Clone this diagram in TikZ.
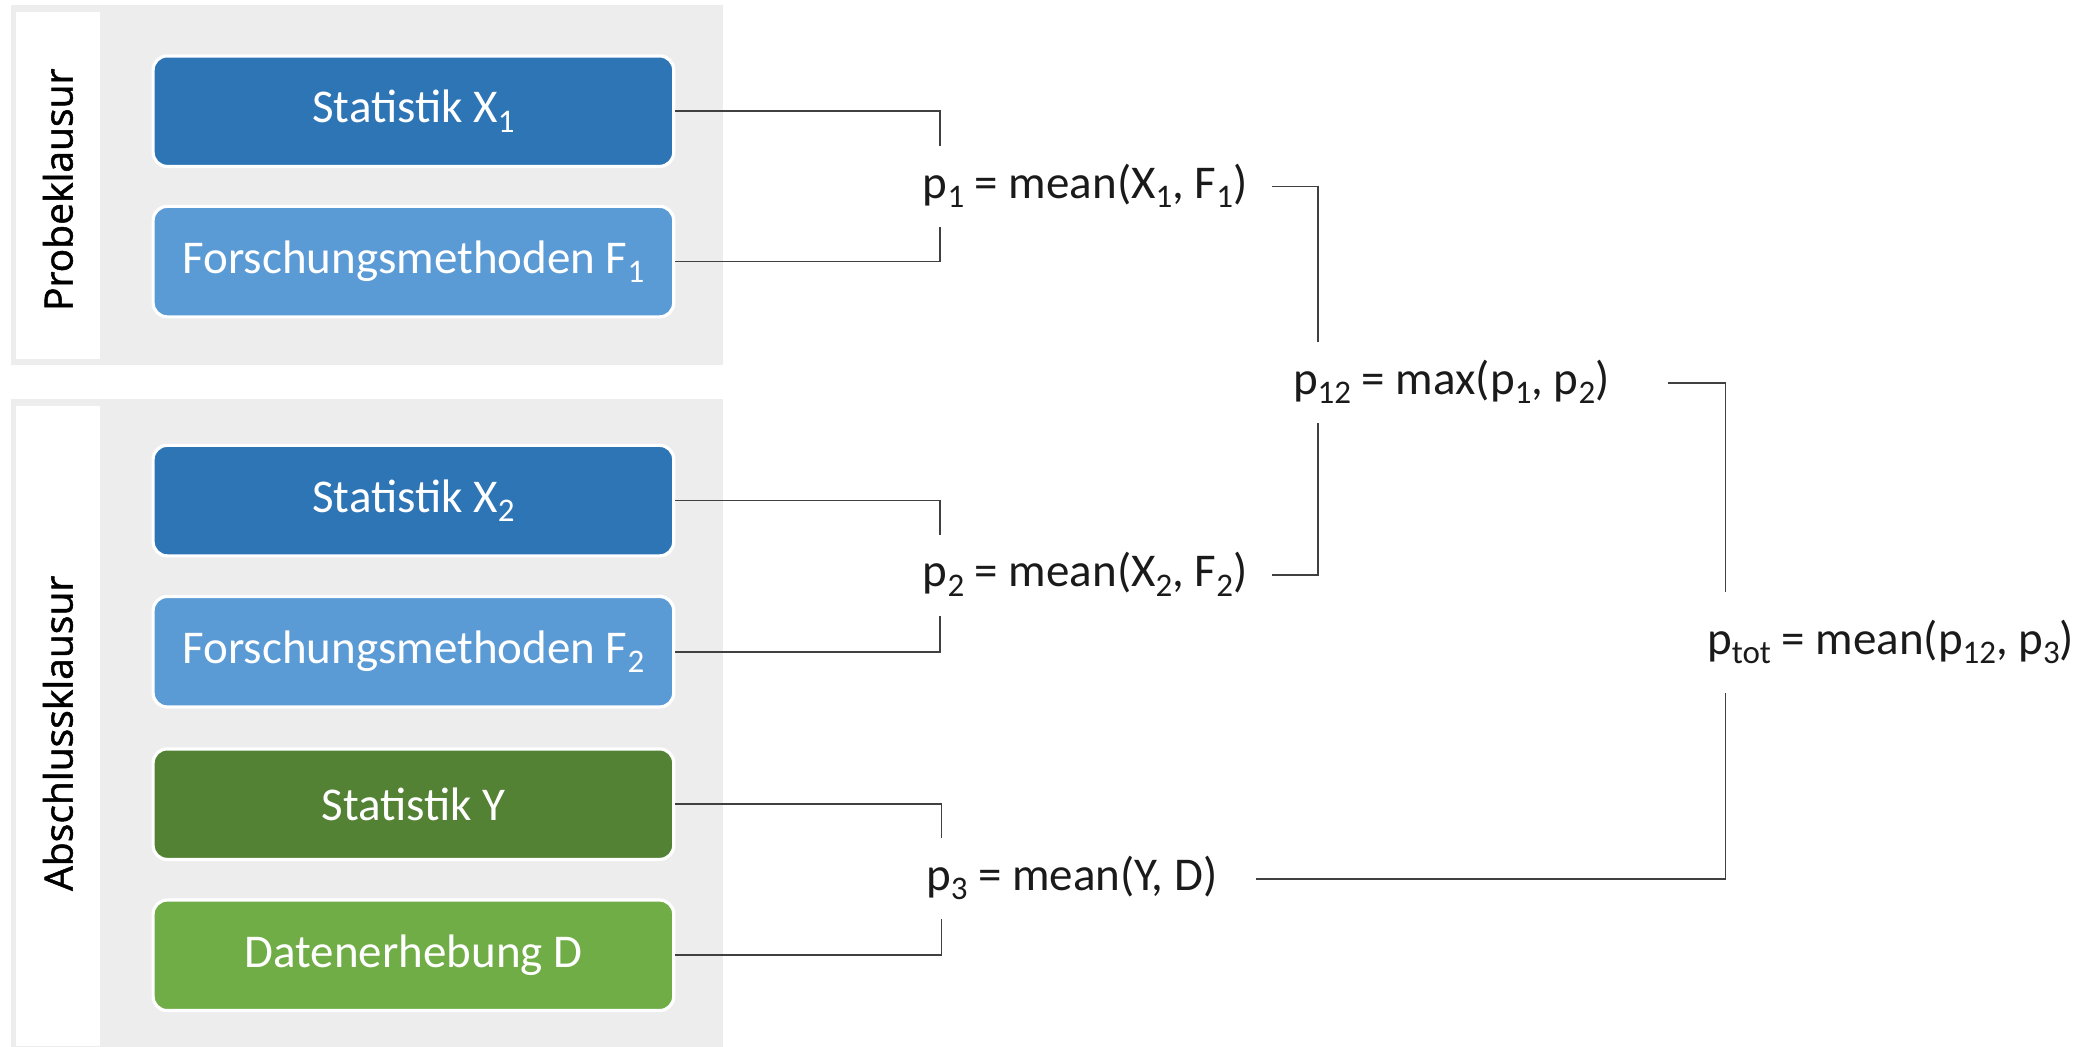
\documentclass[tikz,border=0pt]{standalone}
\usepackage{fontspec}
\setmainfont{Carlito}
\newfontfamily\labfont{Open Sans}[FakeBold=1.3]
\usetikzlibrary{calc}
\definecolor{cDB}{HTML}{2E75B6}
\definecolor{cLB}{HTML}{5B9BD5}
\definecolor{cDG}{HTML}{548235}
\definecolor{cLG}{HTML}{70AD47}
\definecolor{cPanel}{HTML}{EDEDED}
\definecolor{cLine}{HTML}{404040}
\definecolor{cTxt}{HTML}{1A1A1A}
\newcommand\sbs[1]{\raisebox{-0.2em}{\fontsize{16.5}{17}\selectfont #1}}
\begin{document}
\begin{tikzpicture}[x=0.6657pt,y=-0.6657pt,
  box/.style={draw=white, line width=1.6pt, rounded corners=7pt, minimum width=260.3pt, minimum height=55.25pt, text=white, font=\fontsize{23.5}{28}\selectfont, inner sep=0pt},
  formula/.style={font=\fontsize{23.5}{28}\selectfont, text=cTxt, text height=17.6pt, text depth=5.9pt, inner xsep=12pt, inner ysep=8.25pt},
  conn/.style={draw=cLine, line width=0.8pt},
  strip/.style={fill=white, minimum width=41.9pt, inner sep=0pt},
  label/.style={rotate=90, font=\labfont\fontsize{19.5}{22}\selectfont, text=black, inner sep=0pt}]
\useasboundingbox (0,0) rectangle (1560,786);
\fill[cPanel] (8,4) rectangle (543,274);
\fill[cPanel] (8,300) rectangle (543,786);
\node[strip, minimum height=173.7pt] (sp) at (43.5,139.5) {};
\node[strip, minimum height=320pt] (sa) at (43.5,545.5) {};
\node[label] (lp) at ([yshift=-2pt]sp.center) {Probeklausur};
\node[label] (la) at ([yshift=-3.5pt]sa.center) {Abschlussklausur};
\node[box, fill=cDB] (x1) at (310.5,83.5) {Statistik X\sbs{1}};
\node[box, fill=cLB] (f1) at (310.5,196.5) {Forschungsmethoden F\sbs{1}};
\node[box, fill=cDB] (x2) at (310.5,376) {Statistik X\sbs{2}};
\node[box, fill=cLB] (f2) at (310.5,489.5) {Forschungsmethoden F\sbs{2}};
\node[box, fill=cDG] (sy) at (310.5,604) {Statistik Y};
\node[box, fill=cLG] (dd) at (310.5,717.5) {Datenerhebung D};
\node[formula] (p1) at (815,140) {p\sbs{1} = mean(X\sbs{1}, F\sbs{1})};
\node[formula] (p2) at (815,432) {p\sbs{2} = mean(X\sbs{2}, F\sbs{2})};
\node[formula] (p3) at (805,660) {p\sbs{3} = mean(Y, D)};
\node[formula] (p12) at (1090,287.5) {p\sbs{12} = max(p\sbs{1}, p\sbs{2})};
\node[formula, inner ysep=13.25pt] (ptot) at (1420,482.5) {p\sbs{tot} = mean(p\sbs{12}, p\sbs{3})};
\coordinate (e1) at (706,0);
\coordinate (e2) at (706,0);
\coordinate (e3) at (707,0);
\coordinate (e12) at (990,0);
\coordinate (etot) at (1296,0);
\draw[conn] (x1.east) -| (p1.north -| e1);
\draw[conn] (f1.east) -| (p1.south -| e1);
\draw[conn] (x2.east) -| (p2.north -| e2);
\draw[conn] (f2.east) -| (p2.south -| e2);
\draw[conn] (sy.east) -| (p3.north -| e3);
\draw[conn] (dd.east) -| (p3.south -| e3);
\draw[conn] (p1.east) -| (p12.north -| e12);
\draw[conn] (p2.east) -| (p12.south -| e12);
\draw[conn] ([xshift=17pt]p12.east) -| (ptot.north -| etot);
\draw[conn] ([xshift=7pt]p3.east) -| (ptot.south -| etot);
\end{tikzpicture}
\end{document}
